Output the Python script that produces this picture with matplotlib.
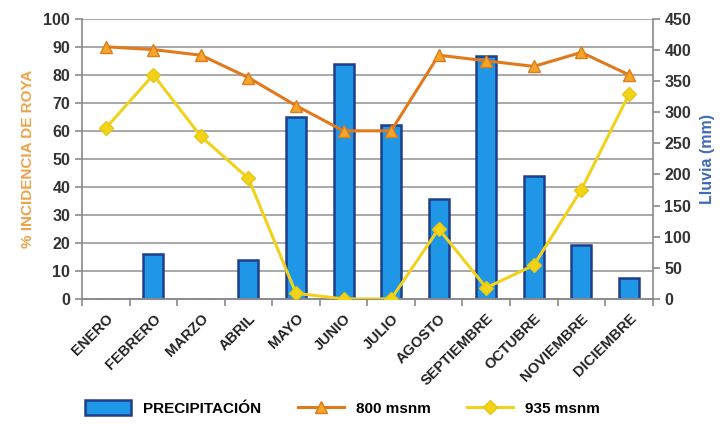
import matplotlib.pyplot as plt
from matplotlib.patches import Patch
from matplotlib.lines import Line2D

plt.rcParams['font.family'] = ['Liberation Sans', 'DejaVu Sans']

# Data
meses = ["ENERO", "FEBRERO", "MARZO", "ABRIL", "MAYO", "JUNIO", "JULIO",
         "AGOSTO", "SEPTIEMBRE", "OCTUBRE", "NOVIEMBRE", "DICIEMBRE"]
precipitacion = [0, 72, 0, 63, 292, 378, 279, 160, 391, 198, 86, 33]
msnm_800 = [90, 89, 87, 79, 69, 60, 60, 87, 85, 83, 88, 80]
msnm_935 = [61, 80, 58, 43, 2, 0, 0, 25, 4, 12, 39, 73]

left_ticks = list(range(0, 101, 10))
right_ticks = list(range(0, 451, 50))

fig = plt.figure(figsize=(7.26, 4.37), dpi=100)
ax = fig.add_axes([0.113, 0.316, 0.786, 0.641])
ax2 = ax.twinx()

x = list(range(len(meses)))

# bars on the right axis, drawn below the lines
for v in left_ticks[1:]:
    ax2.axhline(v * 4.5, color="#9a9a9a", lw=1.2, zorder=0)
ax2.bar(x, precipitacion, width=0.42, color="#1f96e6", edgecolor="#1d3f8c",
        linewidth=1.8, zorder=2)
ax2.set_ylim(0, 450)
ax2.set_yticks(right_ticks)

# incidence lines on the left axis
ax.set_zorder(ax2.get_zorder() + 1)
ax.patch.set_visible(False)
ax.plot(x, msnm_800, color="#e07a1c", lw=2.2, marker="^", markersize=8,
        markerfacecolor="#f2a72a", markeredgecolor="#e07a1c", zorder=4)
ax.plot(x, msnm_935, color="#f0d21c", lw=2.2, marker="D", markersize=7,
        markerfacecolor="#f2d417", markeredgecolor="#e8c516", zorder=3)
ax.set_ylim(0, 100)
ax.set_yticks(left_ticks)
ax.set_xlim(-0.5, len(meses) - 0.5)
ax.set_xticks(x)
ax.set_xticklabels(meses, rotation=45, ha="right", rotation_mode="anchor",
                   fontsize=10.5, fontweight="bold", color="#222222")
ax.set_xticks([i - 0.5 for i in range(len(meses) + 1)], minor=True)
ax.tick_params(axis="x", which="major", length=0, pad=9)
ax.tick_params(axis="x", which="minor", length=5, color="#8a8a8a", width=1.2)

for a in (ax, ax2):
    for s in a.spines.values():
        s.set_visible(False)
    a.spines["bottom"].set_visible(True)
    a.spines["bottom"].set_color("#8a8a8a")
    a.spines["bottom"].set_linewidth(1.2)
ax.spines["left"].set_visible(True)
ax.spines["left"].set_color("#8a8a8a")
ax.spines["left"].set_linewidth(1.2)
ax2.spines["right"].set_visible(True)
ax2.spines["right"].set_color("#8a8a8a")
ax2.spines["right"].set_linewidth(1.2)

ax.tick_params(axis="y", length=5, color="#8a8a8a", width=1.2, labelsize=11.5)
ax2.tick_params(axis="y", length=5, color="#8a8a8a", width=1.2, labelsize=11.5)
for lab in ax.get_yticklabels() + ax2.get_yticklabels():
    lab.set_fontweight("bold")
    lab.set_color("#333333")

ax.set_ylabel("% INCIDENCIA DE ROYA", color="#eda34a", fontsize=11,
              fontweight="bold", labelpad=6)
ax2.set_ylabel("Lluvia (mm)", color="#3f6bb3", fontsize=11.5,
               fontweight="bold", labelpad=6)

handles = [
    Patch(facecolor="#1f96e6", edgecolor="#1d3f8c", linewidth=1.8),
    Line2D([], [], color="#e07a1c", lw=2.2, marker="^", markersize=8,
           markerfacecolor="#f2a72a", markeredgecolor="#e07a1c"),
    Line2D([], [], color="#f0d21c", lw=2.2, marker="D", markersize=7,
           markerfacecolor="#f2d417", markeredgecolor="#e8c516"),
]
fig.legend(handles, ["PRECIPITACIÓN", "800 msnm", "935 msnm"],
           loc="center", bbox_to_anchor=(0.472, 0.066), ncol=3, frameon=False,
           handlelength=3.0, handleheight=1.1, columnspacing=2.4,
           prop={"weight": "bold", "size": 11})

fig.savefig("out.png", dpi=100)
